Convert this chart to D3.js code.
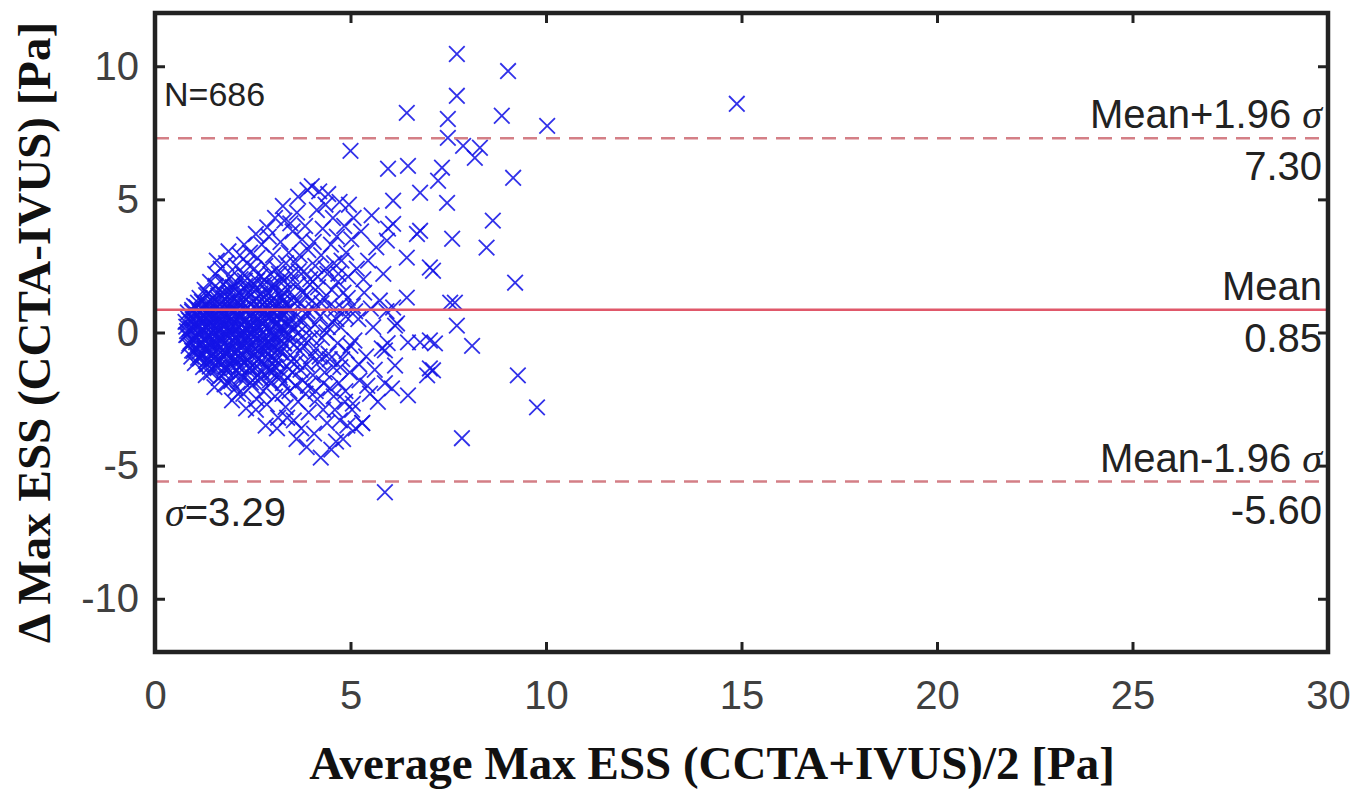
<!DOCTYPE html>
<html>
<head>
<meta charset="utf-8">
<script src="https://cdn.jsdelivr.net/npm/d3@7"></script>
<style>
  body { margin: 0; background: #fff; }
  svg { display: block; }
</style>
</head>
<body>
<div id="chart"></div>
<script>
"use strict";

// axis ticks
var xTicks = [0, 5, 10, 15, 20, 25, 30];
var yTicks = [-10, -5, 0, 5, 10];

// agreement statistics
var meanDiff = 0.85;
var upperLimit = 7.30;
var lowerLimit = -5.60;
var sigma = 3.29;
var nCount = 686;

// dense core of the cloud [average, difference]
var corePoints = [
  [0.78,0.4],[0.8,-0.1],[0.84,0.75],[0.86,-0.5],[0.9,0.15],[0.93,-0.9],[0.96,0.5],[0.98,-0.3],
  [1.0,1.0],[1.02,-1.15],[1.04,0.2],[1.07,-0.6],[1.09,0.65],[1.11,-0.05],[1.14,1.3],[1.16,-0.85],[1.18,0.4],[1.19,-0.35],
  [1.21,0.85],[1.23,-1.3],[1.25,0.05],[1.27,1.6],[1.28,-0.6],[1.3,0.5],[1.32,-0.2],[1.34,1.1],[1.35,-1.0],[1.37,0.25],[1.38,0.8],[1.4,-0.45],
  [1.41,1.9],[1.43,-1.5],[1.44,0.0],[1.46,0.6],[1.47,-0.8],[1.49,1.3],[1.5,0.3],[1.52,-0.3],[1.54,2.2],[1.55,-1.2],[1.57,0.9],[1.58,-0.05],[1.6,1.5],[1.6,-0.65],
  [1.62,0.4],[1.63,-1.7],[1.65,1.05],[1.66,-0.2],[1.68,2.4],[1.69,0.15],[1.71,-1.0],[1.72,0.75],[1.74,-0.45],[1.75,1.8],[1.76,0.3],[1.78,-1.35],[1.79,1.25],[1.8,-0.1],[1.8,0.55],
  [1.82,2.6],[1.83,-0.75],[1.85,0.95],[1.86,-1.9],[1.87,0.2],[1.89,1.6],[1.9,-0.4],[1.91,0.6],[1.93,-1.2],[1.94,2.1],[1.96,0.0],[1.97,1.2],[1.98,-0.9],[2.0,0.4],[2.0,-1.55],
  [2.02,1.85],[2.03,-0.2],[2.05,0.8],[2.06,-2.1],[2.08,2.5],[2.09,0.1],[2.11,-0.65],[2.12,1.4],[2.14,-1.3],[2.15,0.55],[2.16,-0.05],[2.17,2.9],[2.18,-0.95],[2.19,1.05],[2.2,0.3],[2.2,-1.75],
  [2.22,0.7],[2.23,-0.4],[2.24,2.2],[2.26,-2.3],[2.27,1.3],[2.28,0.0],[2.3,-1.1],[2.31,1.75],[2.32,0.45],[2.34,-0.7],[2.35,2.6],[2.36,-1.6],[2.37,0.95],[2.38,-0.15],[2.39,1.5],[2.4,0.25],
  [2.42,-1.35],[2.43,3.0],[2.44,0.65],[2.46,-0.5],[2.47,1.9],[2.48,-2.0],[2.5,0.1],[2.51,1.15],[2.52,-0.85],[2.54,2.4],[2.55,0.4],[2.56,-1.7],[2.57,1.6],[2.58,-0.25],[2.6,0.85],[2.6,-2.5],
  [2.62,2.8],[2.63,0.2],[2.65,-1.0],[2.66,1.35],[2.68,-0.45],[2.69,2.1],[2.7,0.6],[2.72,-1.45],[2.73,3.3],[2.74,-0.05],[2.76,1.05],[2.77,-2.2],[2.78,0.35],[2.79,1.8],[2.8,-0.7],
  [2.82,2.5],[2.83,-1.2],[2.84,0.9],[2.86,-2.7],[2.87,0.15],[2.88,1.5],[2.9,-0.35],[2.91,3.6],[2.92,0.55],[2.94,-1.8],[2.95,2.2],[2.96,-0.9],[2.97,1.2],[2.99,0.0],[3.0,-1.5],
  [3.02,2.9],[3.03,0.7],[3.04,-0.55],[3.06,1.7],[3.07,-2.4],[3.08,0.3],[3.1,-1.05],[3.11,2.4],[3.12,1.0],[3.14,-0.2],[3.15,-3.2],[3.16,1.45],[3.18,-1.6],[3.2,0.5],
  [3.21,3.4],[3.22,-0.75],[3.24,2.0],[3.25,0.1],[3.27,-1.9],[3.28,1.2],[3.3,-0.4],[3.31,4.2],[3.32,0.8],[3.34,-2.8],[3.35,2.6],[3.36,-1.25],[3.38,0.35],[3.4,1.6],
  [3.41,-0.1],[3.42,3.0],[3.44,-2.2],[3.45,0.9],[3.46,-0.85],[3.48,2.2],[3.5,0.2],[3.51,-1.5],[3.52,3.8],[3.54,1.3],[3.55,-3.3],[3.56,-0.45],[3.58,2.6],[3.6,0.6]
];

// second pass over the core, where the crosses pile up
var innerPoints = [
  [0.82,0.05],[0.88,0.45],[0.91,-0.35],[0.95,0.85],[0.99,-0.7],[1.01,0.3],[1.05,-0.15],[1.06,0.95],[1.1,-0.95],[1.13,0.55],
  [1.15,-0.45],[1.17,0.1],[1.2,1.15],[1.22,-0.8],[1.24,0.6],[1.26,-0.3],[1.29,0.2],[1.31,1.4],[1.33,-1.2],[1.36,0.65],
  [1.39,-0.1],[1.42,0.35],[1.45,-0.55],[1.48,1.0],[1.51,-1.0],[1.53,0.65],[1.56,0.15],[1.59,-0.45],[1.61,1.25],[1.64,-1.1],
  [1.67,0.6],[1.7,-0.3],[1.73,1.5],[1.77,-0.75],[1.81,0.3],[1.84,-1.45],[1.86,1.15],[1.88,0.05],[1.92,-0.6],[1.95,0.8],
  [1.99,1.7],[2.01,-0.35],[2.04,0.2],[2.07,-1.0],[2.1,1.2],[2.13,0.45],[2.16,-1.5],[2.19,2.0],[2.21,-0.2],[2.25,0.9],
  [2.29,-0.9],[2.33,1.6],[2.37,0.1],[2.41,-0.55],[2.45,1.05],[2.49,-1.25],[2.53,0.6],[2.57,-0.1],[2.61,1.95],[2.64,-0.7],
  [2.67,0.95],[2.71,-1.75],[2.75,0.3],[2.8,1.3],[2.85,-0.5],[2.89,0.7],[2.93,-1.45],[2.98,1.75],[3.01,-0.15],[3.05,0.95],
  [3.09,-1.3],[3.13,0.4],[3.17,2.2],[3.19,-0.6],[3.23,0.75],[3.26,-2.3],[3.29,1.5],[3.33,-0.15],[3.37,1.05],[3.39,-1.7],
  [3.43,0.5],[3.47,1.9],[3.49,-1.1],[3.53,-0.2],[3.57,1.1],[3.59,-2.0],[3.64,0.3],[3.67,2.3],[3.72,-1.4],[3.77,1.5],
  [3.8,-0.5],[3.86,0.7],[3.91,-2.0],[3.96,1.8],[4.0,-0.2],[4.05,0.9],[4.11,-2.2],[4.16,2.1],[4.21,-0.9],[4.26,1.1],
  [4.31,-1.9],[4.37,2.4],[4.42,0.2],[4.47,-1.0],[4.52,1.6],[4.57,-2.4],[4.64,0.5],[4.69,2.2],[4.74,-1.3],[4.8,0.9],
  [4.87,-2.2],[4.93,1.3],[5.0,-0.5],[5.12,0.8],[5.22,-1.2],[5.33,2.0],[5.43,-2.0],[5.52,0.9],
  [1.3,-1.6],[1.52,-2.05],[1.78,-1.95],[1.97,-2.55],[2.12,-2.3],[2.33,-2.85],[2.58,-2.9],[2.83,-3.5],[3.12,-3.6],[3.38,-3.2],[3.62,-4.0],[3.88,-4.3],
  [1.58,2.7],[1.88,3.05],[2.28,3.3],[2.58,3.7],[2.87,3.95],[3.07,4.3],[3.27,4.75],[3.46,4.1],[3.66,5.1],[3.9,5.35]
];

// the saturated blob around zero, read row by row
var blobPoints = [
  [1.35,1.45],[1.62,1.38],[1.9,1.42],[2.15,1.5],[2.42,1.36],[2.7,1.47],[2.98,1.4],[3.25,1.33],
  [1.1,1.12],[1.28,1.05],[1.47,1.15],[1.66,1.08],[1.85,1.18],[2.03,1.02],[2.24,1.12],[2.46,1.07],[2.66,1.16],[2.88,1.03],[3.1,1.15],[3.32,1.08],
  [0.95,0.78],[1.12,0.84],[1.3,0.76],[1.45,0.86],[1.62,0.8],[1.78,0.72],[1.95,0.88],[2.1,0.74],[2.28,0.83],[2.45,0.77],[2.63,0.86],[2.8,0.73],[3.0,0.82],[3.18,0.76],[3.38,0.85],
  [0.85,0.52],[1.0,0.45],[1.17,0.56],[1.33,0.48],[1.5,0.55],[1.66,0.44],[1.83,0.53],[1.99,0.47],[2.17,0.58],[2.33,0.46],[2.51,0.54],[2.68,0.43],[2.86,0.56],[3.04,0.49],[3.22,0.53],
  [0.8,0.22],[0.97,0.15],[1.14,0.25],[1.3,0.18],[1.46,0.24],[1.63,0.14],[1.8,0.26],[1.96,0.17],[2.13,0.23],[2.3,0.13],[2.47,0.27],[2.64,0.18],[2.82,0.24],[3.0,0.12],[3.2,0.2],[3.4,0.25],
  [0.83,-0.08],[1.0,-0.14],[1.16,-0.05],[1.32,-0.12],[1.49,-0.06],[1.66,-0.15],[1.82,-0.04],[1.98,-0.11],[2.15,-0.07],[2.32,-0.16],[2.5,-0.05],[2.67,-0.12],[2.85,-0.08],[3.03,-0.15],[3.22,-0.06],
  [0.88,-0.42],[1.05,-0.36],[1.22,-0.45],[1.38,-0.38],[1.55,-0.44],[1.72,-0.35],[1.88,-0.46],[2.05,-0.37],[2.22,-0.43],[2.39,-0.34],[2.56,-0.47],[2.73,-0.39],[2.91,-0.44],[3.1,-0.36],[3.3,-0.42],
  [0.95,-0.68],[1.12,-0.74],[1.28,-0.66],[1.45,-0.73],[1.62,-0.65],[1.78,-0.76],[1.95,-0.67],[2.12,-0.72],[2.29,-0.64],[2.46,-0.75],[2.63,-0.69],[2.81,-0.73],[3.0,-0.66],[3.2,-0.71],
  [1.15,-0.98],[1.32,-1.04],[1.5,-0.97],[1.67,-1.06],[1.84,-0.99],[2.01,-1.05],[2.18,-0.96],[2.36,-1.03],[2.54,-0.98],[2.72,-1.07],[2.9,-1.0],[3.1,-1.04],
  [1.4,-1.28],[1.6,-1.34],[1.8,-1.27],[2.0,-1.33],[2.2,-1.26],[2.4,-1.35],[2.62,-1.29],[2.85,-1.33],[3.05,-1.27],
  [1.55,1.75],[1.8,1.9],[2.05,1.72],[2.3,1.95],[2.55,1.78],[2.8,1.98],[3.05,1.8],[3.3,1.95],
  [1.7,-1.62],[1.95,-1.82],[2.2,-1.65],[2.45,-1.88],[2.7,-1.68],[2.95,-1.9],[3.2,-1.7]
];

// looser middle part of the cloud
var spreadPoints = [
  [3.62,-1.1],[3.63,4.5],[3.65,1.8],[3.66,-2.6],[3.68,0.0],[3.7,2.9],[3.71,-0.7],[3.73,1.1],[3.74,-3.6],[3.76,3.5],[3.78,-1.8],[3.79,0.45],
  [3.81,2.3],[3.82,-0.3],[3.84,4.0],[3.85,-2.3],[3.87,1.4],[3.88,-1.2],[3.9,0.8],[3.92,3.1],[3.93,-3.0],[3.95,0.1],[3.97,2.0],[3.99,-0.9],
  [4.01,5.5],[4.02,1.2],[4.04,-1.6],[4.06,3.4],[4.07,-3.8],[4.09,0.3],[4.1,2.5],[4.12,-0.6],[4.14,4.6],[4.15,-2.5],[4.17,1.7],[4.19,-1.1],
  [4.2,5.3],[4.22,0.6],[4.24,-4.7],[4.25,2.9],[4.27,-0.2],[4.29,3.9],[4.3,-2.9],[4.32,1.3],[4.34,-1.5],[4.36,4.8],[4.38,0.0],[4.4,-3.4],
  [4.41,2.2],[4.43,5.2],[4.44,-0.8],[4.46,1.0],[4.48,-2.1],[4.5,3.3],[4.51,-4.4],[4.53,0.4],[4.55,4.3],[4.56,-1.3],[4.58,2.6],[4.6,-2.9],
  [4.62,0.9],[4.63,-4.1],[4.65,3.6],[4.67,-0.4],[4.68,1.9],[4.7,-1.9],[4.72,4.9],[4.73,-3.3],[4.75,0.2],[4.77,2.7],[4.79,-1.0],
  [4.81,-4.0],[4.82,1.5],[4.84,4.0],[4.86,-2.6],[4.88,0.6],[4.89,3.0],[4.9,-0.7],[4.92,-3.5],[4.94,2.1],[4.96,4.8],[4.98,-1.5],
  [5.02,3.5],[5.04,-2.9],[5.06,1.0],[5.08,4.3],[5.1,-0.3],[5.13,-3.6],[5.16,2.4],[5.2,0.5],[5.23,-1.8],[5.27,3.8],[5.3,-3.4],[5.35,1.5],[5.4,-0.9],[5.45,2.7],
  [5.5,-2.3],[5.54,4.4],[5.58,0.2],[5.62,-1.4],[5.66,3.2],[5.7,-2.6],[5.75,1.2],[5.8,-0.6],[5.84,2.2],[5.88,-1.9],[5.92,0.8],[5.96,3.9]
];

// isolated points right of the cloud
var outlierPoints = [
  [7.72,10.46],[9.03,9.82],[7.72,8.89],[6.44,8.25],[7.49,8.02],[8.87,8.14],[10.03,7.76],[14.88,8.59],
  [7.49,7.31],[7.88,7.01],[8.31,6.94],[8.18,6.56],[5.0,6.82],[5.96,6.15],[6.47,6.26],[7.34,6.19],
  [7.24,5.70],[6.78,5.25],[9.16,5.81],[6.09,4.95],[7.47,4.87],[8.64,4.2],[7.6,3.52],[8.48,3.19],
  [6.78,3.82],[6.7,3.7],[6.09,4.08],[5.93,3.45],[6.44,2.81],[7.11,2.32],[7.03,2.44],[9.21,1.87],
  [6.44,1.31],[7.67,1.12],[7.55,1.12],[6.09,0.94],[7.72,0.26],[6.19,0.34],[8.11,-0.5],[6.14,0.26],
  [6.47,-0.37],[6.78,-0.37],[7.16,-0.41],[7.03,-0.3],[7.03,-1.35],[7.11,-1.42],[6.96,-1.61],[6.14,-1.24],
  [6.06,-2.1],[6.47,-2.36],[9.28,-1.61],[9.77,-2.81],[7.85,-3.97],[5.88,-6.0],[5.3,-3.4],[5.06,-2.67],
  [5.88,-0.67],[5.95,-0.4]
];

var allPoints = corePoints.concat(innerPoints, blobPoints, spreadPoints, outlierPoints);

var W = 1366, H = 790;
var margin = {top: 13, right: 38, bottom: 138, left: 155};
var plotW = W - margin.left - margin.right,
    plotH = H - margin.top - margin.bottom;

var x = d3.scaleLinear().domain([0, 30]).range([0, plotW]);
var y = d3.scaleLinear().domain([-12, 12]).range([plotH, 0]);

var svg = d3.select("#chart").append("svg")
  .attr("width", W)
  .attr("height", H);

var g = svg.append("g")
  .attr("transform", "translate(" + margin.left + "," + margin.top + ")");

var tickFont = "'Liberation Sans', Arial, sans-serif";
var labelColor = "#404040";

// clip for the marks
g.append("clipPath").attr("id", "plotclip")
  .append("rect").attr("width", plotW).attr("height", plotH);

// markers (x shaped)
var s = 7.8;
var marks = g.append("g").attr("clip-path", "url(#plotclip)");
marks.selectAll("path.pt")
  .data(allPoints)
  .enter().append("path")
  .attr("class", "pt")
  .attr("d", function(d) {
    var cx = x(d[0]), cy = y(d[1]);
    return "M" + (cx - s) + "," + (cy - s) + "L" + (cx + s) + "," + (cy + s) +
           "M" + (cx - s) + "," + (cy + s) + "L" + (cx + s) + "," + (cy - s);
  })
  .attr("stroke", "#1414e6")
  .attr("stroke-opacity", 0.88)
  .attr("stroke-width", 1.8)
  .attr("fill", "none");

// reference lines
g.append("line")
  .attr("x1", 0).attr("x2", plotW)
  .attr("y1", y(meanDiff)).attr("y2", y(meanDiff))
  .attr("stroke", "#e0586a").attr("stroke-width", 2.5);

[upperLimit, lowerLimit].forEach(function(v) {
  g.append("line")
    .attr("x1", 0).attr("x2", plotW)
    .attr("y1", y(v)).attr("y2", y(v))
    .attr("stroke", "#d47f86").attr("stroke-width", 2.5)
    .attr("stroke-dasharray", "14,9");
});

// line labels, right aligned inside the box
var labelX = plotW - 6;
var annoSize = 40;
function lineLabel(v, top, bottom) {
  var t = g.append("text")
    .attr("x", labelX).attr("y", y(v) - 10)
    .attr("text-anchor", "end")
    .attr("font-family", tickFont).attr("font-size", annoSize)
    .attr("fill", "#222");
  t.append("tspan").text(top[0]);
  if (top[1]) {
    t.append("tspan").attr("font-family", "'Liberation Serif', serif")
      .attr("font-style", "italic").text(top[1]);
  }
  g.append("text")
    .attr("x", labelX).attr("y", y(v) + 42)
    .attr("text-anchor", "end")
    .attr("font-family", tickFont).attr("font-size", annoSize)
    .attr("fill", "#222")
    .text(bottom);
}
lineLabel(upperLimit, ["Mean+1.96 ", "\u03c3"], upperLimit.toFixed(2));
lineLabel(meanDiff, ["Mean"], meanDiff.toFixed(2));
lineLabel(lowerLimit, ["Mean-1.96 ", "\u03c3"], lowerLimit.toFixed(2));

g.append("text")
  .attr("x", 9).attr("y", 93)
  .attr("font-family", tickFont).attr("font-size", 34)
  .attr("fill", "#222")
  .text("N=" + nCount);

var sig = g.append("text")
  .attr("x", 10).attr("y", 513)
  .attr("font-family", tickFont).attr("font-size", 40)
  .attr("fill", "#222");
sig.append("tspan").attr("font-family", "'Liberation Serif', serif")
  .attr("font-style", "italic").text("\u03c3");
sig.append("tspan").text("=" + sigma.toFixed(2));

// axes with inward ticks
var plain = function(d) { return String(d); };
var xAxis = g.append("g")
  .attr("transform", "translate(0," + plotH + ")")
  .call(d3.axisBottom(x).tickValues(xTicks).tickFormat(plain).tickSizeInner(-10).tickSizeOuter(0).tickPadding(29));
var yAxis = g.append("g")
  .call(d3.axisLeft(y).tickValues(yTicks).tickFormat(plain).tickSizeInner(-10).tickSizeOuter(0).tickPadding(16));
var xTop = g.append("g")
  .call(d3.axisTop(x).tickValues(xTicks).tickSizeInner(-10).tickSizeOuter(0).tickFormat(""));
var yRight = g.append("g")
  .attr("transform", "translate(" + plotW + ",0)")
  .call(d3.axisRight(y).tickValues(yTicks).tickSizeInner(-10).tickSizeOuter(0).tickFormat(""));

[xAxis, yAxis, xTop, yRight].forEach(function(a) {
  a.select(".domain").remove();
  a.selectAll(".tick line").attr("stroke", "#222").attr("stroke-width", 3);
  a.selectAll(".tick text")
    .attr("fill", labelColor)
    .attr("font-family", tickFont)
    .attr("font-size", 40);
});

// frame
g.append("rect")
  .attr("width", plotW).attr("height", plotH)
  .attr("fill", "none")
  .attr("stroke", "#222").attr("stroke-width", 4.5);

// axis titles
svg.append("text")
  .attr("transform", "translate(34," + (margin.top + plotH / 2) + ") rotate(-90)")
  .attr("text-anchor", "middle")
  .attr("dominant-baseline", "central")
  .attr("font-family", "'Liberation Serif', 'Times New Roman', serif")
  .attr("font-weight", "bold")
  .attr("font-size", 47)
  .attr("fill", "#111")
  .text("\u0394 Max ESS (CCTA-IVUS) [Pa]");

svg.append("text")
  .attr("x", 712)
  .attr("y", 779)
  .attr("text-anchor", "middle")
  .attr("font-family", "'Liberation Serif', 'Times New Roman', serif")
  .attr("font-weight", "bold")
  .attr("font-size", 47)
  .attr("fill", "#111")
  .text("Average Max ESS (CCTA+IVUS)/2 [Pa]");
</script>
</body>
</html>
